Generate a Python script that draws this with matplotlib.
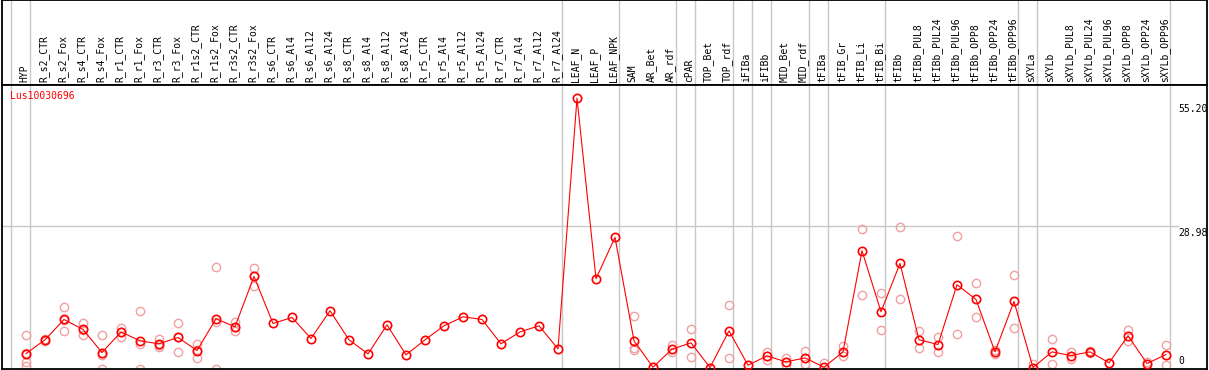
import numpy as np
import matplotlib
matplotlib.use('Agg')
import matplotlib.pyplot as plt

# Sample groups, in display order
samples = ['HYP',
           'R_s2_CTR', 'R_s2_Fox', 'R_s4_CTR', 'R_s4_Fox', 'R_r1_CTR', 'R_r1_Fox',
           'R_r3_CTR', 'R_r3_Fox', 'R_r1s2_CTR', 'R_r1s2_Fox', 'R_r3s2_CTR',
           'R_r3s2_Fox', 'R_s6_CTR', 'R_s6_Al4', 'R_s6_Al12', 'R_s6_Al24',
           'R_s8_CTR', 'R_s8_Al4', 'R_s8_Al12', 'R_s8_Al24', 'R_r5_CTR',
           'R_r5_Al4', 'R_r5_Al12', 'R_r5_Al24', 'R_r7_CTR', 'R_r7_Al4',
           'R_r7_Al12', 'R_r7_Al24',
           'LEAF_N', 'LEAF_P', 'LEAF_NPK',
           'SAM', 'AR_Bet', 'AR_rdf', 'cPAR', 'TOP_Bet', 'TOP_rdf', 'iFIBa',
           'iFIBb', 'MID_Bet', 'MID_rdf', 'tFIBa', 'tFIB_Gr', 'tFIB_Li',
           'tFIB_Bi', 'tFIBb', 'tFIBb_PUL8', 'tFIBb_PUL24', 'tFIBb_PUL96',
           'tFIBb_OPP8', 'tFIBb_OPP24', 'tFIBb_OPP96', 'sXYLa', 'sXYLb',
           'sXYLb_PUL8', 'sXYLb_PUL24', 'sXYLb_PUL96', 'sXYLb_OPP8',
           'sXYLb_OPP24', 'sXYLb_OPP96']

# Mean expression per sample (the red line)
means = [2.87,
         5.68, 9.85, 7.8, 3.08, 7.3, 5.47, 4.86, 6.16, 3.49, 9.99, 8.35, 18.67,
         9.03, 10.26, 5.95, 11.63, 5.68, 2.8, 8.75, 2.6, 5.68, 8.55, 10.4,
         9.85, 4.86, 7.3, 8.55, 3.83,
         55.2, 18.2, 26.68,
         5.47, 0.07, 3.76, 5.07, 0.0, 7.52, 0.48, 2.39, 1.16, 1.98, 0.07,
         3.21, 23.94, 11.43, 21.34, 5.68, 4.72, 16.97, 13.95, 3.21, 13.54,
         0.0, 3.21, 2.46, 3.21, 0.96, 6.5, 0.82, 2.67]

# Individual replicates (pale circles); empty where none are drawn
replicates = [[6.7, 3.0, 1.2, 0.3],
              [5.5, 5.9], [12.45, 7.39, 9.7], [9.03, 6.7, 7.7], [6.7, -0.3, 2.6],
              [8.2, 6.36, 7.34], [11.63, -0.3, 4.78], [5.8, 4.17, 4.61],
              [9.17, 3.14, 6.17], [4.86, 1.92, 3.69], [20.66, -0.3, 9.3],
              [9.3, 7.45, 8.3], [20.46, 16.7, 18.85],
              [], [], [], [], [], [], [], [], [], [], [], [], [], [], [], [],
              [], [], [],
              [10.6, 4.1, 3.56], [0.1], [4.65, 3.14], [7.93, 2.26], [],
              [12.86, 1.98], [0.5], [3.14, 1.64], [1.98, 0.55], [3.49, 0.68],
              [1.03], [4.38, 2.33], [28.46, 14.9], [15.33, 7.73], [28.8, 13.95],
              [7.39, 4.03], [6.22, 3.14], [26.88, 6.9], [17.38, 10.4],
              [3.6, 2.8], [18.88, 8.2], [0.75], [5.75, 0.75], [3.14, 1.85],
              [3.3, 3.0], [0.9], [7.59, 5.4], [1.1], [4.65, 0.55]]

# Group boundaries: a separator line follows each of these samples
group_ends = ['HYP', 'R_r7_Al24', 'LEAF_NPK', 'AR_rdf', 'cPAR', 'TOP_rdf',
              'iFIBa', 'iFIBb', 'MID_rdf', 'tFIBa', 'tFIB_Bi', 'tFIBb_OPP96',
              'sXYLa', 'sXYLb_OPP96']

y_labels = [55.20, 28.98, 0]
gene_id = 'Lus10030696'

W, H = 1209, 370
fig = plt.figure(figsize=(W / 100, H / 100), dpi=100)

# pixel layout
x_left, x_right = 2, 1207
hdr_bottom = 85
plot_bottom = 369
col0, col_step = 26, 19


def px_to_idx(px):
    return (px - col0) / col_step


ax_h = fig.add_axes([x_left / W, 1 - hdr_bottom / H,
                     (x_right - x_left) / W, hdr_bottom / H])
ax = fig.add_axes([x_left / W, 1 - plot_bottom / H,
                   (x_right - x_left) / W, (plot_bottom - hdr_bottom) / H])

xlim = (px_to_idx(x_left), px_to_idx(x_right))
for a in (ax, ax_h):
    a.set_xlim(*xlim)
    a.set_xticks([])
    a.set_yticks([])
    for sp in a.spines.values():
        sp.set_color('black')
        sp.set_linewidth(1.3)
ax_h.set_ylim(0, 1)
ax.set_ylim(-0.3, 57.9)

grid_col = '#c8c8c8'
sep_x = [-1 + 0.21] + [samples.index(s) + 0.21 for s in group_ends]
for xv in sep_x:
    ax.axvline(xv, color=grid_col, lw=1.0, zorder=0)
    ax_h.axvline(xv, color=grid_col, lw=1.0, zorder=0)
ax.plot([xlim[0], px_to_idx(1178)], [28.98, 28.98], color=grid_col, lw=1.0,
        zorder=0)

mono = 'DejaVu Sans Mono'
for i, name in enumerate(samples):
    ax_h.text(i - 0.08, 0.03, name, rotation=90, ha='center', va='bottom',
              fontsize=7, family=mono)

x = np.arange(len(samples))
rx = [i for i, r in enumerate(replicates) for _ in r]
ry = [v for r in replicates for v in r]
ax.plot(rx, ry, 'o', ms=6, mfc='none', mec='#f0a0a0', mew=1.0, zorder=2)
ax.plot(x, means, '-', color='red', lw=0.8, zorder=3)
ax.plot(x, means, 'o', ms=6, mfc='none', mec='red', mew=1.2, zorder=4)

ax.text(px_to_idx(10), 55.6, gene_id, color='red', fontsize=7, family=mono,
        ha='left', va='center')

lab_x = px_to_idx(1178)
ax.annotate(f'{y_labels[0]:.2f}', (lab_x, y_labels[0]), xytext=(0, -4),
            textcoords='offset points', ha='left', va='top', fontsize=7,
            family=mono)
ax.annotate(f'{y_labels[1]:.2f}', (lab_x, y_labels[1]), xytext=(0, -1),
            textcoords='offset points', ha='left', va='top', fontsize=7,
            family=mono)
ax.annotate(f'{y_labels[2]}', (lab_x, y_labels[2]), xytext=(0, 1),
            textcoords='offset points', ha='left', va='bottom', fontsize=7,
            family=mono)

fig.savefig('out.png', dpi=100)
